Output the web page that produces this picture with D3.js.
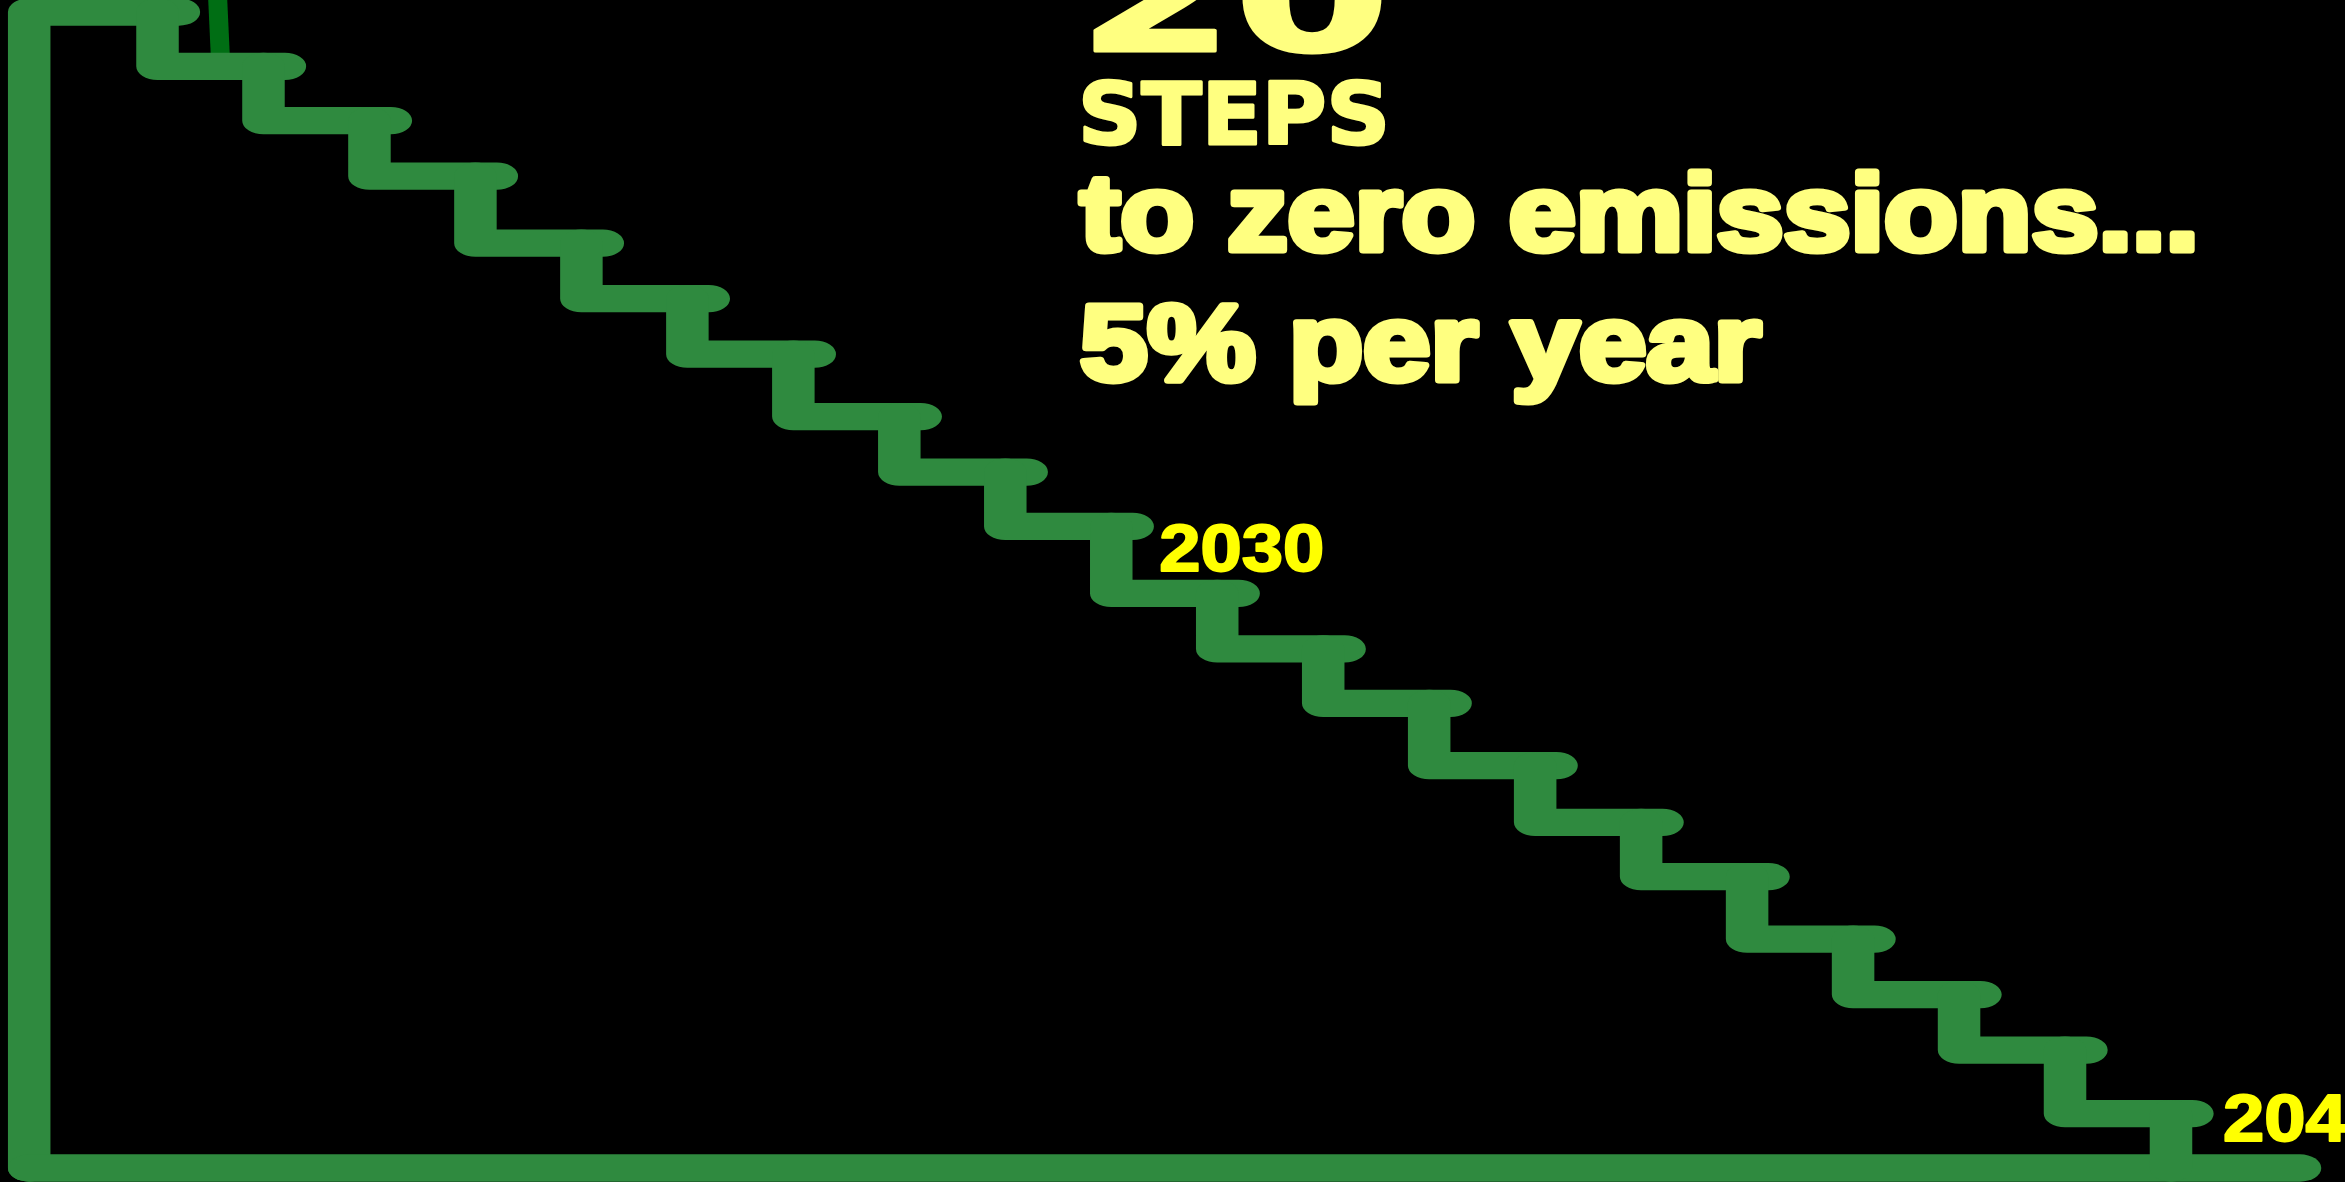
<!DOCTYPE html>
<html>
<head>
<meta charset="utf-8">
<script src="https://cdn.jsdelivr.net/npm/d3@7"></script>
<style>
  html, body { margin: 0; padding: 0; background: #000; overflow: hidden; }
  svg { display: block; }
</style>
</head>
<body>
<script>
/* global d3 */

// emissions level (% of start) after each year's step
const years = [2020, 2021, 2022, 2023, 2024, 2025, 2026, 2027, 2028, 2029, 2030,
  2031, 2032, 2033, 2034, 2035, 2036, 2037, 2038, 2039, 2040];
const emissions = [100, 95.3, 90.6, 85.8, 80.0, 75.2, 70.4, 65.0, 60.2, 55.5, 49.7,
  44.9, 40.2, 34.8, 29.9, 25.2, 19.8, 15.0, 10.2, 4.7, 0];
const labelYears = [2030, 2040];
const headline = ['20', 'STEPS'];
const subline = ['to zero emissions...', '5% per year'];

const width = 2345;
const height = 1182;
const margin = {
  top: 12, right: 174, bottom: 14, left: 157.5,
};

const stepGreen = '#2f8a3f';
const paleYellow = '#ffff80';

const svg = d3.select('body')
  .append('svg')
  .attr('width', width)
  .attr('height', height)
  .style('background', '#000');

const xScale = d3.scaleLinear()
  .domain([2021, 2040])
  .range([margin.left, width - margin.right]);

const yScale = d3.scaleLinear()
  .domain([0, 100])
  .range([height - margin.bottom, margin.top]);

// the drawing is stretched sideways, so strokes and caps are too
const sx = 1.557;
const strokeW = 27.3;
const nose = 21.4; // how far a tread runs past the next riser
const axisX = 29.2;
const axisEnd = 2300;

const line = d3.line()
  .x((d) => d[0] / sx)
  .y((d) => d[1]);

// thin dark stem at the top
svg.append('line')
  .attr('x1', 217.5)
  .attr('y1', -5)
  .attr('x2', 220.5)
  .attr('y2', 60)
  .attr('stroke', '#006e14')
  .attr('stroke-width', 19);

const g = svg.append('g')
  .attr('transform', `scale(${sx},1)`)
  .attr('fill', 'none')
  .attr('stroke', stepGreen)
  .attr('stroke-width', strokeW)
  .attr('stroke-linecap', 'round')
  .attr('stroke-linejoin', 'round');

// left axis + first tread
g.append('path')
  .attr('d', line([
    [axisX, yScale(0)],
    [axisX, yScale(emissions[0])],
    [xScale(years[1]) + nose, yScale(emissions[0])],
  ]));

// bottom axis
g.append('path')
  .attr('d', line([[axisX, yScale(0)], [axisEnd, yScale(0)]]));

// risers and treads
const steps = years.slice(1).map((yr, i) => {
  const k = i + 1;
  const pts = [
    [xScale(yr), yScale(emissions[k - 1])],
    [xScale(yr), yScale(emissions[k])],
  ];
  if (k < years.length - 1) {
    pts.push([xScale(years[k + 1]) + nose, yScale(emissions[k])]);
  }
  return pts;
});

g.selectAll('.step')
  .data(steps)
  .enter().append('path')
  .attr('class', 'step')
  .attr('d', (d) => line(d));

// year labels beside the treads
const labelPos = {
  2030: { dx: 48, dy: 45 },
  2040: { dx: 52, dy: 27 },
};

svg.selectAll('.year')
  .data(labelYears)
  .enter().append('text')
  .attr('class', 'year')
  .attr('x', (d) => xScale(d) + labelPos[d].dx)
  .attr('y', (d) => yScale(emissions[years.indexOf(d) - 1]) + labelPos[d].dy)
  .attr('textLength', 165)
  .attr('lengthAdjust', 'spacingAndGlyphs')
  .style('font-family', '"Liberation Sans", Arial, sans-serif')
  .style('font-weight', 'bold')
  .style('font-size', '66px')
  .style('fill', '#ffff00')
  .style('stroke', '#ffff00')
  .style('stroke-width', 2)
  .style('stroke-linejoin', 'round')
  .text((d) => d);

// title block
const head = svg.append('g')
  .style('font-family', '"DejaVu Sans", sans-serif')
  .style('font-weight', 'bold')
  .style('fill', paleYellow)
  .style('stroke', paleYellow)
  .style('stroke-width', 3)
  .style('stroke-linejoin', 'round');

head.append('text')
  .attr('x', 1078)
  .attr('y', 51)
  .attr('textLength', 312)
  .attr('lengthAdjust', 'spacingAndGlyphs')
  .style('font-size', '150px')
  .text(headline[0]);

head.append('text')
  .attr('x', 1078)
  .attr('y', 144)
  .attr('textLength', 312)
  .attr('lengthAdjust', 'spacingAndGlyphs')
  .style('font-size', '86px')
  .text(headline[1]);

svg.selectAll('.sub')
  .data(subline)
  .enter().append('text')
  .attr('class', 'sub')
  .attr('x', 1080)
  .attr('y', (d, i) => 250 + i * 130)
  .attr('textLength', (d, i) => (i === 0 ? 1119 : 681))
  .attr('lengthAdjust', 'spacingAndGlyphs')
  .style('font-family', '"Liberation Sans", Arial, sans-serif')
  .style('font-weight', 'bold')
  .style('font-size', '107px')
  .style('fill', paleYellow)
  .style('stroke', paleYellow)
  .style('stroke-width', 7)
  .style('stroke-linejoin', 'round')
  .text((d) => d);
</script>
</body>
</html>
